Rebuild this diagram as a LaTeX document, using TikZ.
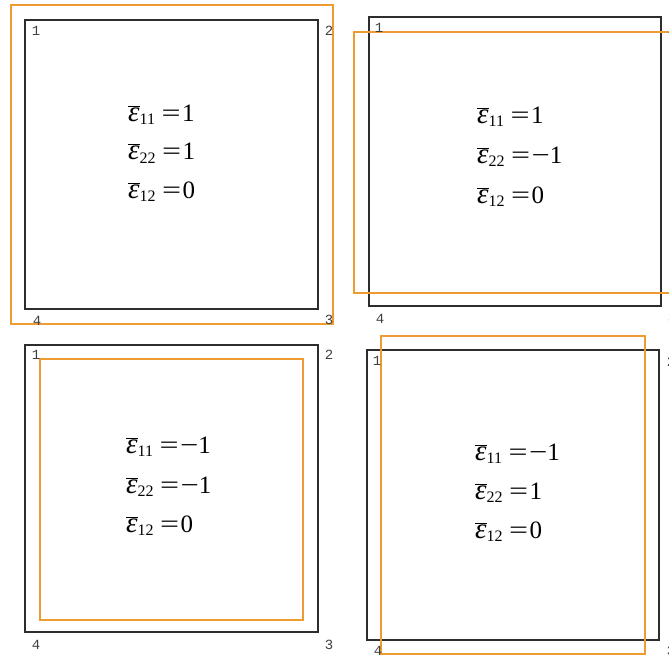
\documentclass[tikz,border=0pt]{standalone}
\usepackage{graphicx}
\usepackage{fontspec}
\setmainfont{Liberation Serif}
\newfontfamily\labfont{Liberation Mono}
\definecolor{deform}{RGB}{238,155,50}
\definecolor{orig}{RGB}{45,45,45}
\newcommand\epsb[1]{\(\overline{\hbox{\fontsize{29}{29}\selectfont\itshape ε}}_{\hbox{\fontsize{16}{16}\selectfont #1}}\)}
\newcommand\eqs{\hspace{6pt}\scalebox{1.35}[1]{=}\hspace{1.5pt}}
\newcommand\mns{\scalebox{1.3}[1]{−}}
\begin{document}
\begin{tikzpicture}[x=1pt,y=-1pt,
  origbox/.style={draw=orig,line width=1.2pt},
  defbox/.style={draw=deform,line width=1.2pt},
  eq/.style={anchor=base west,inner sep=0pt,font=\fontsize{25}{25}\selectfont},
  lab/.style={inner sep=0pt,text=black!75,font=\labfont\fontsize{14}{14}\selectfont}]
\useasboundingbox (0,0) rectangle (669,656);
\fill[white] (0,0) rectangle (669,656);
% top left
\draw[origbox] (25,20) rectangle (318,309);
\draw[defbox] (11,5) rectangle (333,324);
\node[lab] (tl1) at (36,31) {1};
\node[lab] (tl2) at (329,31) {2};
\node[lab] (tl4) at (37,321) {4};
\node[lab] (tl3) at (329,320) {3};
\node[eq] (tla) at (128,121) {\epsb{11}\eqs1};
\node[eq] (tlb) at (128,159.5) {\epsb{22}\eqs1};
\node[eq] (tlc) at (128,198) {\epsb{12}\eqs0};
% top right
\draw[origbox] (369,17) rectangle (661,306);
\draw[defbox] (690,32) -- (354,32) -- (354,293) -- (690,293);
\node[lab] (tr1) at (379,28) {1};
\node[lab] (tr2) at (672,29) {2};
\node[lab] (tr4) at (380,319) {4};
\node[lab] (tr3) at (672,318) {3};
\node[eq] (tra) at (477,123) {\epsb{11}\eqs1};
\node[eq] (trb) at (477,163) {\epsb{22}\eqs\mns1};
\node[eq] (trc) at (477,203) {\epsb{12}\eqs0};
% bottom left
\draw[origbox] (25,345) rectangle (318,632);
\draw[defbox] (40,359) rectangle (303,620);
\node[lab] (bl1) at (36,355) {1};
\node[lab] (bl2) at (329,355) {2};
\node[lab] (bl4) at (36,645) {4};
\node[lab] (bl3) at (329,645) {3};
\node[eq] (bla) at (126,453) {\epsb{11}\eqs\mns1};
\node[eq] (blb) at (126,493) {\epsb{22}\eqs\mns1};
\node[eq] (blc) at (126,532) {\epsb{12}\eqs0};
% bottom right
\draw[origbox] (367,350) rectangle (659,640);
\draw[defbox] (381,336) rectangle (645,654);
\node[lab] (br1) at (377,361) {1};
\node[lab] (br2) at (671,362) {2};
\node[lab] (br4) at (378,651) {4};
\node[lab] (br3) at (671,651) {3};
\node[eq] (bra) at (475,460) {\epsb{11}\eqs\mns1};
\node[eq] (brb) at (475,499) {\epsb{22}\eqs1};
\node[eq] (brc) at (475,538) {\epsb{12}\eqs0};
\end{tikzpicture}
\end{document}
